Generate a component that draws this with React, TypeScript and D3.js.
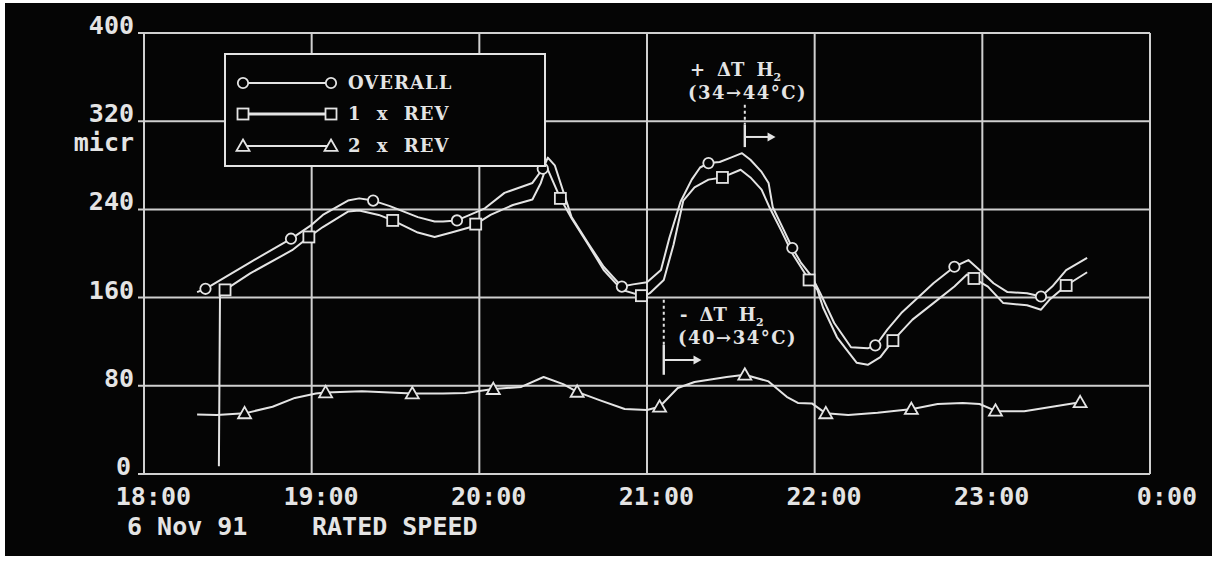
import React from "react";
import * as d3 from "d3";

// time in minutes after 18:00, value in micr
const overall: [number, number][] = [
  [19,165],[22,168],[38,192],[53,214],[60,226],[64,235],[73,248],[77,250],[82,248],[88,243],[93,238],[98,233],[104,229],[107,229],[112,230],[122,241],[129,255],[139,264],[143,278],[144.5,287],[147,280],[153,233],[159,209],[164.5,188],[171,170],[175,172],[180,174],[185,185],[188,214],[192,247],[196,267],[199,278],[202,282],[206,283],[210,287],[214,291],[217,285],[221,274],[223.5,264],[225,242],[229,221],[232,205],[235,192],[239,179],[242,164],[247,137],[253,115],[259,114],[262,117],[266,131],[271,146],[277,160],[282.5,173],[290,188],[295,194],[299,185],[304,173],[309,165],[316,164],[321,161],[325,170],[330,185],[337.5,196]
];
const rev1: [number, number][] = [
  [26.8,7],[27.2,164],[29,167],[38,182],[53,203],[59,215],[64,224],[73,238],[77,239],[84,235],[89,230],[98,219],[104,215],[110,219],[117,224],[124,235],[132,244],[139,249],[142,264],[144,279],[149,250],[153,232],[159,208],[164.5,185],[171,167],[179,161],[181,164],[186,176],[189.5,208],[193,248],[197,260],[202,267],[207,269],[213.5,276],[217,269],[221,258],[224,241],[228,221],[232,200],[238,176],[241,167],[243,151],[248,124],[255,101],[259,99],[263.5,106],[268,121],[275,140],[282.5,155],[290,170],[294.5,181],[302,170],[307.5,155],[316,153],[321,149],[324,158],[330,171],[337.5,183]
];
const rev2: [number, number][] = [
  [19,54],[26,53.5],[36,55],[46,61],[54,69],[61.5,73],[65,74],[78,75],[96,73],[107,73],[115,73.5],[125,77],[135,79],[143,88],[150,81.5],[155,74.5],[163,67],[172,59],[180,58],[184.5,61],[191,78],[197,83.5],[208.5,88],[215,90],[223.5,84],[230,70],[234,64.5],[239,64],[244,55],[252,53.5],[262.5,55.5],[275,59],[284,63.5],[293,64.5],[299,63.5],[305,57],[315,57],[325,61],[335,65]
];

const overallMarkers = [22, 52.6, 82, 112, 142.7, 171, 202, 232, 261.7, 290, 321];
const rev1Markers = [29, 59, 89, 118.7, 149, 178, 207, 238, 268, 297, 330];
const rev2Markers = [36, 65, 96, 125, 155, 184.5, 215, 244, 274.6, 304.7, 335];

const xTickValues = [0, 60, 120, 180, 240, 300, 360];
const xTickLabels = ["18:00", "19:00", "20:00", "21:00", "22:00", "23:00", " 0:00"];
const yTickValues = [0, 80, 160, 240, 320, 400];

const legendLabels = ["OVERALL", "1 x REV", "2 x REV"];
const markerKinds = ["circle", "square", "triangle"];

// annotation anchors: [time of marker line, top value, solid-start value, bottom value, arrow value, arrow end time]
const annUp = { sign: "+", range: "(34→44°C)", t: 215, top: 335, solidFrom: 317, bottom: 296.5, arrowV: 305.7, arrowT: 226 };
const annDown = { sign: "-", range: "(40→34°C)", t: 186, top: 158, solidFrom: 117, bottom: 90, arrowV: 103.4, arrowT: 199.5 };

const FG = "#e4e4e4";
const MONO = "'DejaVu Sans Mono', monospace";
const SERIF = "'DejaVu Serif', serif";

const x = d3.scaleLinear().domain([0, 360]).range([144, 1150]);
const y = d3.scaleLinear().domain([0, 400]).range([474, 33]);

function valueAt(series: [number, number][], t: number) {
  const i = d3.bisector((d: [number, number]) => d[0]).left(series, t);
  if (i <= 0) return series[0][1];
  if (i >= series.length) return series[series.length - 1][1];
  const a = series[i - 1], b = series[i];
  const f = (t - a[0]) / (b[0] - a[0]);
  return a[1] + f * (b[1] - a[1]);
}

function Marker({ kind, cx, cy }: { kind: string; cx: number; cy: number }) {
  const common = { fill: "#050505", stroke: FG, strokeWidth: 1.8 };
  if (kind === "circle") return <circle cx={cx} cy={cy} r={5.2} {...common} />;
  if (kind === "square") return <rect x={cx - 5.5} y={cy - 5.5} width={11} height={11} {...common} />;
  const s = 6.5;
  return <path d={`M${cx},${cy - s}L${cx + s},${cy + s * 0.75}L${cx - s},${cy + s * 0.75}Z`} {...common} />;
}

const line = d3.line<[number, number]>().x(d => x(d[0])).y(d => y(d[1]));

function Annotation({ a, textX, textY }: { a: typeof annUp; textX: number; textY: number }) {
  const lx = x(a.t);
  const ax = x(a.arrowT);
  const ay = y(a.arrowV);
  return (
    <g>
      <text x={textX} y={textY} fill={FG} fontFamily={SERIF} fontWeight="bold" fontSize={18} xmlSpace="preserve">
        <tspan>{a.sign}</tspan>
        <tspan dx={12}>ΔT</tspan>
        <tspan dx={12}>H</tspan>
        <tspan dy={5} fontSize={11}>2</tspan>
      </text>
      <text x={textX - 2} y={textY + 23} fill={FG} fontFamily={SERIF} fontWeight="bold" fontSize={18} letterSpacing={1.5}>
        {a.range}
      </text>
      <line x1={lx} x2={lx} y1={y(a.top)} y2={y(a.solidFrom)} stroke={FG} strokeWidth={2} strokeDasharray="3,3" />
      <line x1={lx} x2={lx} y1={y(a.solidFrom)} y2={y(a.bottom)} stroke={FG} strokeWidth={2.4} />
      <line x1={lx} x2={ax - 6} y1={ay} y2={ay} stroke={FG} strokeWidth={2} />
      <path d={`M${ax},${ay}L${ax - 8},${ay - 4.5}L${ax - 8},${ay + 4.5}Z`} fill={FG} />
    </g>
  );
}

export default function App() {
  const series = [overall, rev1, rev2];
  const markers = [overallMarkers, rev1Markers, rev2Markers];
  const legendRows = [83, 114, 146];
  return (
    <svg width={1217} height={563} style={{ position: "absolute", left: 0, top: 0 }}>
      <rect x={0} y={0} width={1217} height={563} fill="#ffffff" />
      <rect x={5} y={3} width={1207} height={553} fill="#050505" />

      {/* grid */}
      <g stroke="#d0d0d0" strokeWidth={2}>
        {yTickValues.map(v => (
          <line key={"h" + v} x1={138} x2={x(360)} y1={y(v)} y2={y(v)} />
        ))}
        {xTickValues.map(t => (
          <line key={"v" + t} x1={x(t)} x2={x(t)} y1={y(0)} y2={y(400)} />
        ))}
      </g>

      {/* y labels */}
      <g fill={FG} fontFamily={MONO} fontWeight="bold" fontSize={25}>
        {yTickValues.map(v => (
          <text key={"yl" + v} x={v === 0 ? 131 : 134} y={y(v) + 1} textAnchor="end">
            {String(v)}
          </text>
        ))}
        <text x={134} y={151} textAnchor="end">micr</text>
        {xTickValues.map((t, i) => (
          <text key={"xl" + t} x={x(t) + 47} y={505} textAnchor="end" xmlSpace="preserve">
            {xTickLabels[i]}
          </text>
        ))}
        <text x={127} y={535}>6 Nov 91</text>
        <text x={312} y={535}>RATED SPEED</text>
      </g>

      {/* series lines */}
      <g fill="none" stroke={FG} strokeWidth={2} strokeLinejoin="round">
        {series.map((s, i) => (
          <path key={"s" + i} d={line(s) || ""} />
        ))}
      </g>
      {series.map((s, i) =>
        markers[i].map((t, j) => (
          <Marker key={"m" + i + "-" + j} kind={markerKinds[i]} cx={x(t)} cy={y(valueAt(s, t))} />
        ))
      )}

      {/* annotations */}
      <Annotation a={annUp} textX={690} textY={76} />
      <Annotation a={annDown} textX={680} textY={321} />

      {/* legend */}
      <g>
        <rect x={225} y={54} width={320} height={112} fill="#050505" stroke={FG} strokeWidth={2} />
        {legendLabels.map((lab, i) => (
          <g key={"lg" + i}>
            <line x1={243} x2={331} y1={legendRows[i]} y2={legendRows[i]} stroke={FG} strokeWidth={i === 1 ? 3 : 2} />
            <Marker kind={markerKinds[i]} cx={243} cy={legendRows[i]} />
            <Marker kind={markerKinds[i]} cx={331} cy={legendRows[i]} />
            <text x={348} y={legendRows[i] + 6} fill={FG} fontFamily={SERIF} fontWeight="bold" fontSize={18} letterSpacing={1} wordSpacing={8}>
              {lab}
            </text>
          </g>
        ))}
      </g>
    </svg>
  );
}
